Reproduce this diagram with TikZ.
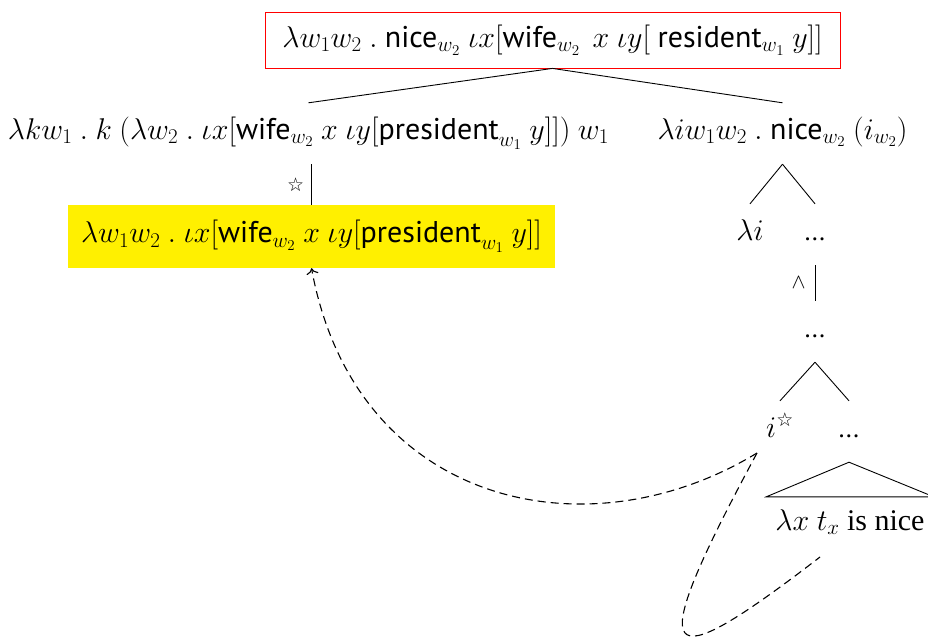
\RequirePackage{fix-cm}
\documentclass[tikz,border=0pt]{standalone}
\usepackage{fontspec}
\setmainfont{Liberation Serif}
\newfontfamily\serf{Liberation Serif}
\newfontfamily\sff{PT Sans}
\newfontfamily\symf{DejaVu Sans}
\usetikzlibrary{arrows.meta}
\newcommand{\sw}[1]{\mbox{\sff #1}}
\newcommand{\wstar}{\mbox{\fontsize{19}{19}\selectfont\symf ☆}}
\newcommand{\dts}{{\sff\fontsize{26}{26}\selectfont ...}}
\definecolor{hly}{RGB}{255,240,0}
\begin{document}
\begin{tikzpicture}[x=1pt,y=-1pt,
  font=\fontsize{30}{34}\selectfont,
  lab/.style={anchor=base, inner sep=0pt, text height=36pt, text depth=25pt},
  edge/.style={line width=0.9pt},
  dashln/.style={line width=1.1pt, dash pattern=on 8pt off 5pt},
]
\useasboundingbox (0,0) rectangle (928,641);

\node[draw=red, line width=0.8pt, minimum width=575pt, minimum height=56pt, inner sep=0pt] (top) at (552.5,40)
  {$\lambda w_1w_2\ .\ \sw{nice}_{w_2}\ \iota x[\sw{wife}_{w_2}\ \,x\ \iota y[\ \sw{resident}_{w_1}\ y]]$};
\node[lab] (lc) at (308.5,139)
  {$\lambda k w_1\ .\ k\ (\lambda w_2\ .\ \iota x[\sw{wife}_{w_2}\ x\ \iota y[\sw{president}_{w_1}\ y]])\ w_1$};
\node[lab] (rc) at (782.5,139)
  {$\lambda i w_1 w_2\ .\ \sw{nice}_{w_2}\ (i_{w_2})$};
\node[fill=hly, minimum width=487pt, minimum height=63pt, inner sep=0pt] (yb) at (311.5,236.5)
  {$\lambda w_1w_2\ .\ \iota x[\sw{wife}_{w_2}\ x\ \iota y[\sw{president}_{w_1}\ y]]$};
\node[lab] (li) at (750,240) {$\lambda i$};
\node[lab] (d1) at (815,240) {\dts};
\node[lab] (d2) at (815,337) {\dts};
\node[lab] (is) at (780,437) {$i^{\wstar}$};
\node[lab] (d3) at (849,437) {\dts};
\node[lab, text height=33pt, inner xsep=9pt] (nice) at (850,530) {$\lambda x\ t_x$ {\serf is nice}};

\draw[edge] (top.south) -- (lc.north);
\draw[edge] (top.south) -- (rc.north);
\draw[edge] (rc.south) -- (li.north);
\draw[edge] (rc.south) -- (d1.north);
\draw[edge] (yb.north |- lc.south) -- node[left, inner sep=7pt, font=\fontsize{19}{19}\selectfont\symf] {☆} (yb.north);
\draw[edge] (d1.south) -- node[left, inner sep=9pt] {$\scriptstyle\wedge$} (d2.north);
\draw[edge] (d2.south) -- (is.north);
\draw[edge] (d2.south) -- (d3.north);
\draw[edge] (d3.south) -- (nice.north west) -- (nice.north east) -- cycle;

\coordinate (ft) at (757,453);
\coordinate (loopend) at (820,557);
\draw[dashln, -{To[length=6pt,width=12pt]}] (ft) .. controls (586,557) and (355,505) .. (yb.south);
\draw[dashln] (ft) .. controls (640,670) and (660,680) .. (loopend);
\end{tikzpicture}
\end{document}
